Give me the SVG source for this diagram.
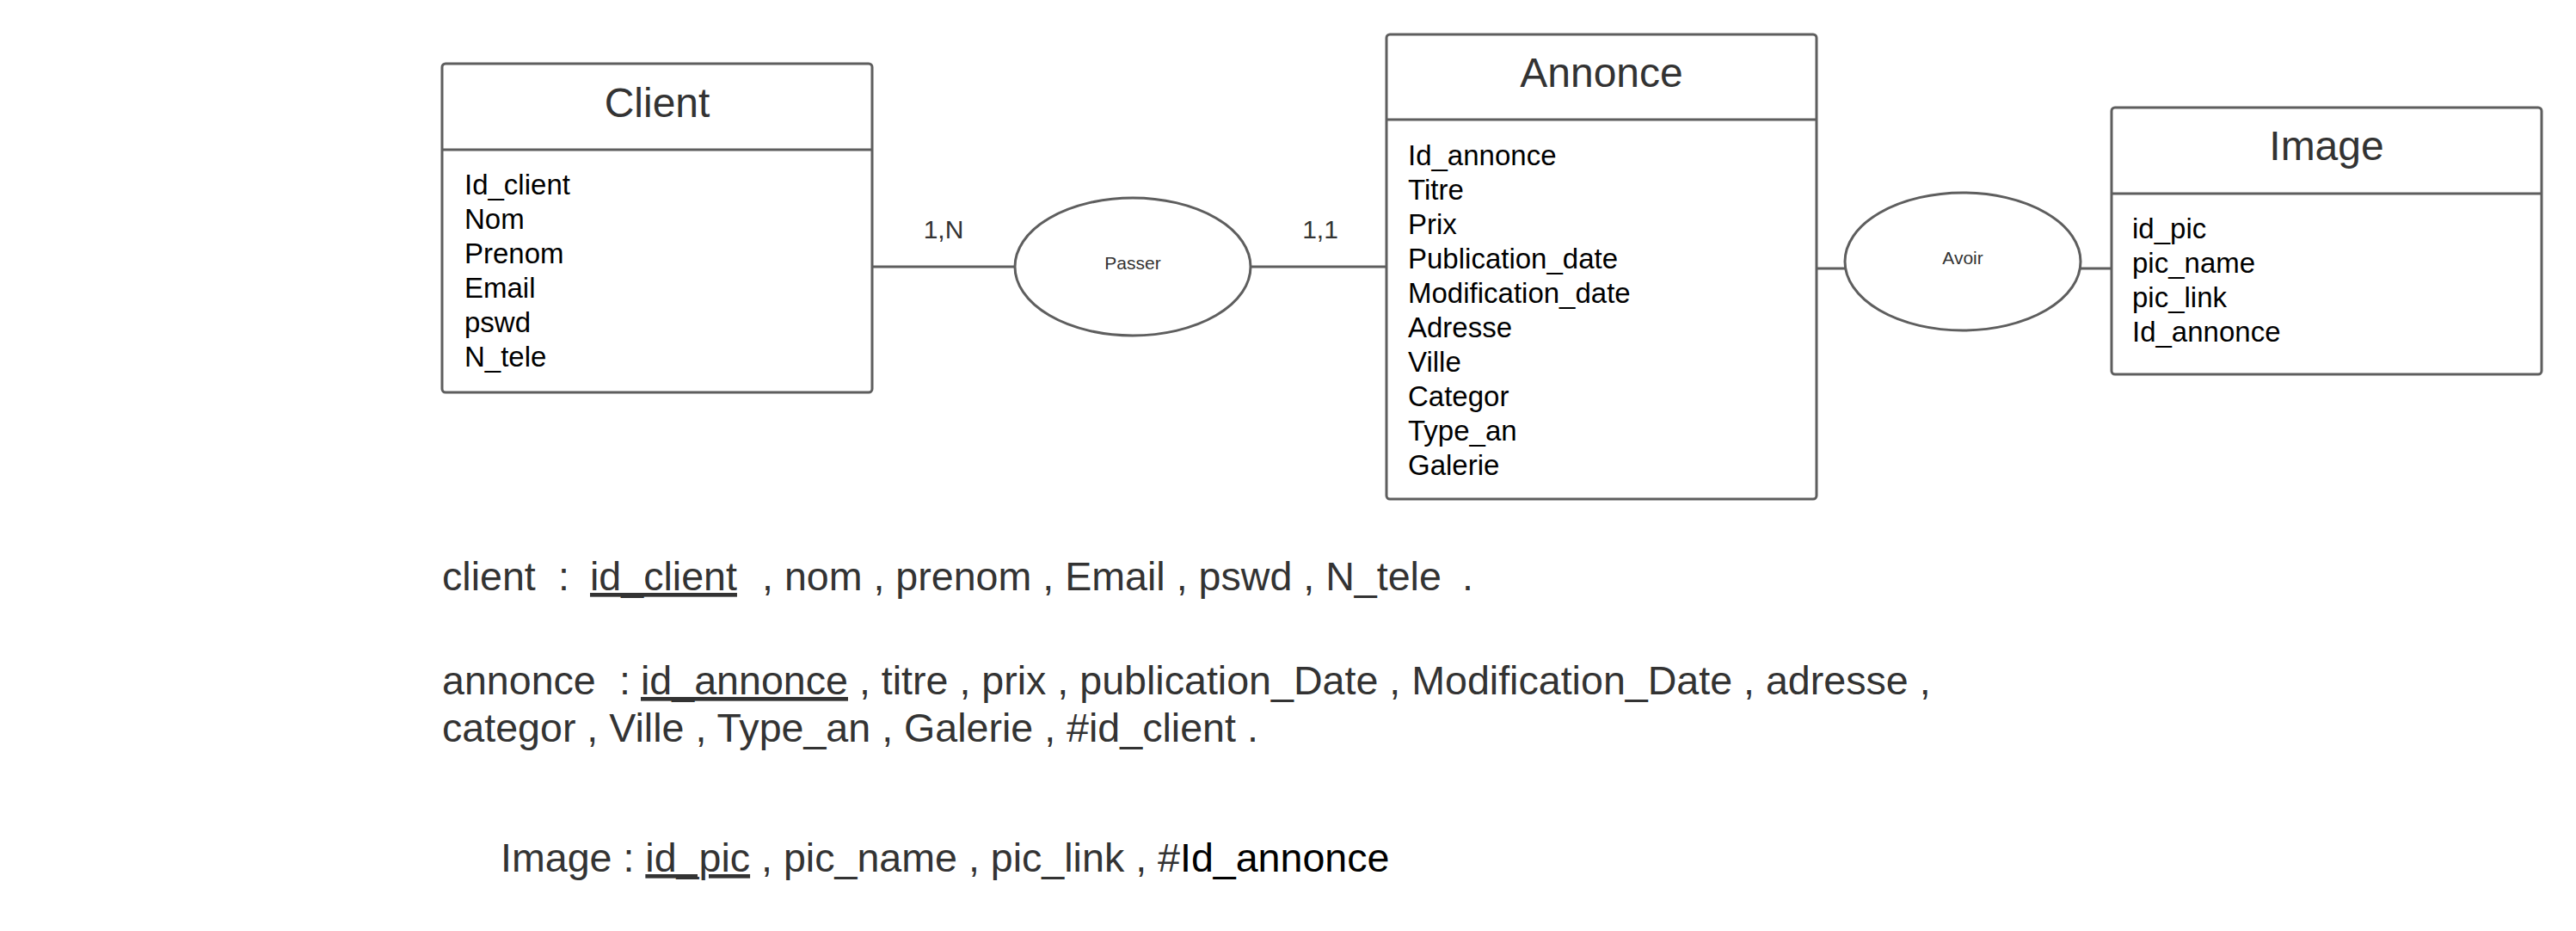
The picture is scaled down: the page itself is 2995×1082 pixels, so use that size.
<svg xmlns="http://www.w3.org/2000/svg" width="2995" height="1082" viewBox="0 0 2995 1082">
<style>
.box{fill:#fff;stroke:#5e5e5e;stroke-width:3}
.sep{stroke:#5e5e5e;stroke-width:3}
.title{font-family:"Liberation Sans",Arial,sans-serif;font-size:48px;fill:#333;text-anchor:middle}
.attr{font-family:"Liberation Sans",Arial,sans-serif;font-size:33px;fill:#000}
.rel{fill:#fff;stroke:#5e5e5e;stroke-width:3}
.rlab{font-family:"Liberation Sans",Arial,sans-serif;font-size:21px;fill:#333;text-anchor:middle}
.card{font-family:"Liberation Sans",Arial,sans-serif;font-size:30px;fill:#333;text-anchor:middle}
.conn{stroke:#5e5e5e;stroke-width:3;fill:none}
.schema{font-family:"Liberation Sans",Arial,sans-serif;font-size:46.6px;fill:#333}
</style>
<rect width="2995" height="1082" fill="#fff"/>
<g id="connectors">
<line class="conn" x1="1014" y1="310" x2="1180" y2="310"/>
<line class="conn" x1="1454" y1="310" x2="1612" y2="310"/>
<line class="conn" x1="2112" y1="312" x2="2145" y2="312"/>
<line class="conn" x1="2419" y1="312" x2="2455" y2="312"/>
<text class="card" x="1097" y="277">1,N</text>
<text class="card" x="1535" y="277">1,1</text>
</g>
<g id="client">
<rect class="box" x="514" y="74" width="500" height="382" rx="4"/>
<line class="sep" x1="514" y1="174" x2="1014" y2="174"/>
<text class="title" x="764" y="136">Client</text>
<text class="attr" x="540" y="226">Id_client</text>
<text class="attr" x="540" y="266">Nom</text>
<text class="attr" x="540" y="306">Prenom</text>
<text class="attr" x="540" y="346">Email</text>
<text class="attr" x="540" y="386">pswd</text>
<text class="attr" x="540" y="426">N_tele</text>
</g>
<g id="passer">
<ellipse class="rel" cx="1317" cy="310" rx="137" ry="80"/>
<text class="rlab" x="1317" y="313">Passer</text>
</g>
<g id="annonce">
<rect class="box" x="1612" y="40" width="500" height="540" rx="4"/>
<line class="sep" x1="1612" y1="139" x2="2112" y2="139"/>
<text class="title" x="1862" y="101">Annonce</text>
<text class="attr" x="1637" y="192">Id_annonce</text>
<text class="attr" x="1637" y="232">Titre</text>
<text class="attr" x="1637" y="272">Prix</text>
<text class="attr" x="1637" y="312">Publication_date</text>
<text class="attr" x="1637" y="352">Modification_date</text>
<text class="attr" x="1637" y="392">Adresse</text>
<text class="attr" x="1637" y="432">Ville</text>
<text class="attr" x="1637" y="472">Categor</text>
<text class="attr" x="1637" y="512">Type_an</text>
<text class="attr" x="1637" y="552">Galerie</text>
</g>
<g id="avoir">
<ellipse class="rel" cx="2282" cy="304" rx="137" ry="80"/>
<text class="rlab" x="2282" y="307">Avoir</text>
</g>
<g id="image">
<rect class="box" x="2455" y="125" width="500" height="310" rx="4"/>
<line class="sep" x1="2455" y1="225" x2="2955" y2="225"/>
<text class="title" x="2705" y="186">Image</text>
<text class="attr" x="2479" y="277">id_pic</text>
<text class="attr" x="2479" y="317">pic_name</text>
<text class="attr" x="2479" y="357">pic_link</text>
<text class="attr" x="2479" y="397">Id_annonce</text>
</g>
<g id="schema">
<text class="schema" y="686"><tspan x="514">client</tspan><tspan x="649">:</tspan><tspan x="686" text-decoration="underline">id_client</tspan><tspan x="886">, nom , prenom , Email , pswd , N_tele</tspan><tspan x="1700">.</tspan></text>
<text class="schema" y="807"><tspan x="514">annonce</tspan><tspan x="720">:</tspan><tspan x="745" text-decoration="underline">id_annonce</tspan><tspan xml:space="preserve"> , titre , prix , publication_Date , Modification_Date , adresse ,</tspan></text>
<text class="schema" x="514" y="862">categor , Ville , Type_an , Galerie , #id_client .</text>
<text class="schema" y="1013" xml:space="preserve"><tspan x="582">Image : </tspan><tspan text-decoration="underline">id_pic</tspan><tspan> , pic_name , pic_link , #</tspan><tspan fill="#000">Id_annonce</tspan></text>
</g>
</svg>
